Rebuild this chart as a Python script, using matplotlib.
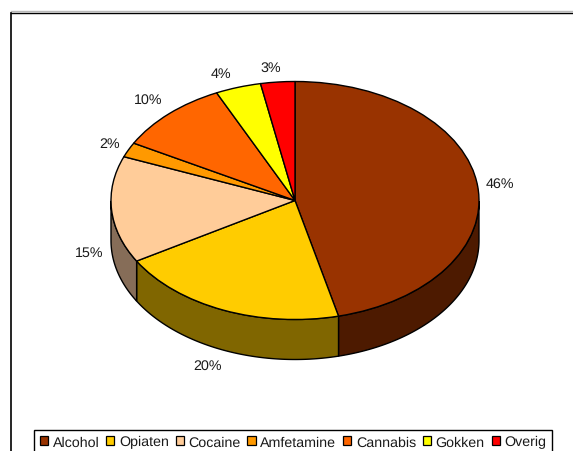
import numpy as np
import matplotlib
matplotlib.use("Agg")
import matplotlib.pyplot as plt
from matplotlib.lines import Line2D
from matplotlib.patches import Patch

categories = ["Alcohol", "Opiaten", "Cocaine", "Amfetamine", "Cannabis", "Gokken", "Overig"]
values = [46.2, 20.3, 14.5, 2.0, 10.0, 4.0, 3.0]
value_labels = ["46%", "20%", "15%", "2%", "10%", "4%", "3%"]
colors = ["#993300", "#FFCC00", "#FFCC99", "#FF9900", "#FF6600", "#FFFF00", "#FF0000"]
side_colors = ["#4D1A00", "#806600", "#866D58", "#805000", "#803300", "#808000", "#800000"]
# small label nudges in pixels (right, up)
label_nudge = [(2, 1), (-3, -1), (5, -1), (6, 0), (-1, 3), (-6, -1), (-1, -1)]

W, H = 573, 452
CX, CY, RX, RY, DEPTH = 295.0, 201.5, 184.0, 119.0, 40.0
plt.rcParams["font.family"] = ["Liberation Sans", "DejaVu Sans"]
plt.rcParams["text.hinting"] = "no_hinting"

fig = plt.figure(figsize=(W / 100, H / 100), dpi=100, facecolor="white")
ax = fig.add_axes([0, 0, 1, 1])
d = DEPTH / RY

# side walls (lower half of the tilted disc)
total = sum(values)
edges = 90 - 360 * np.cumsum([0] + values) / total
for a0, a1, col in zip(edges[:-1], edges[1:], side_colors):
    t = np.radians(np.linspace(a0, a1, 200))
    t = t[np.sin(t) <= 0]
    if len(t) < 2:
        continue
    x = np.cos(t)
    y = np.sin(t)
    ax.fill(np.r_[x, x[::-1]], np.r_[y, y[::-1] - d], facecolor=col, edgecolor="black", lw=1.0, zorder=1)

wedges, label_texts = ax.pie(
    values, colors=colors, startangle=90, counterclock=False, radius=1,
    labels=value_labels, labeldistance=1.13,
    wedgeprops=dict(edgecolor="black", linewidth=1.0, zorder=2),
    textprops=dict(fontsize=10.3, color="#1a1a1a"),
)
for w, txt, (nx, ny) in zip(wedges, label_texts, label_nudge):
    mid = np.radians((w.theta1 + w.theta2) / 2)
    px, py = txt.get_position()
    if np.sin(mid) < 0:
        py -= d
    txt.set_position((px - 0.02 + nx / RX, py + ny / RY))
    txt.set_ha("center")
    txt.set_va("center")

ax.set_aspect("auto")
ax.set_xlim(-CX / RX, (W - CX) / RX)
ax.set_ylim(-(H - CY) / RY, CY / RY)
ax.axis("off")

# chart-area frame: top and left only reach the image
fig.add_artist(Line2D([10.5 / W, 1], [1 - 12.2 / H] * 2, color="#b8b8b8", lw=1.0))
fig.add_artist(Line2D([10.5 / W, 1], [1 - 13.5 / H] * 2, color="black", lw=1.0))
fig.add_artist(Line2D([10.5 / W, 10.5 / W], [0, 1 - 13.5 / H], color="black", lw=1.2))

handles = [Patch(facecolor=c, edgecolor="black", lw=0.9) for c in colors]
leg = fig.legend(
    handles, categories, ncol=7, loc="lower left",
    bbox_to_anchor=(34 / W, -3 / H), bbox_transform=fig.transFigure,
    fontsize=10.3, frameon=True, fancybox=False, edgecolor="black", framealpha=1,
    borderpad=0.4, borderaxespad=0, handlelength=0.57, handleheight=0.6,
    handletextpad=0.33, columnspacing=0.47,
)
leg.get_frame().set_linewidth(1.0)
for t in leg.get_texts():
    t.set_color("#1a1a1a")

fig.savefig("out.png", dpi=100, facecolor="white")
